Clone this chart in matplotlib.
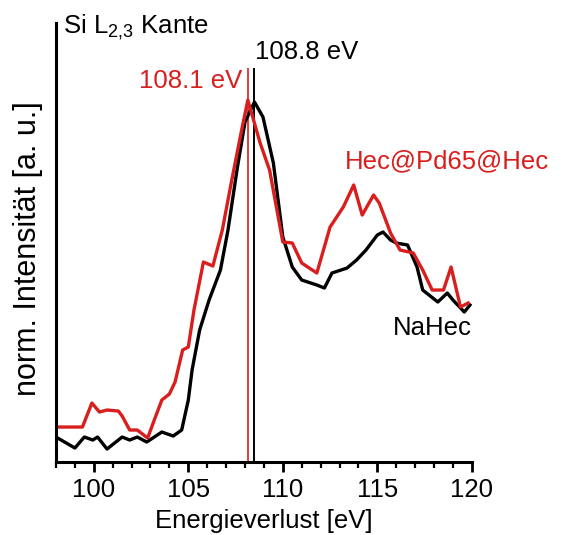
import numpy as np
import matplotlib
matplotlib.use("Agg")
import matplotlib.pyplot as plt
from matplotlib.ticker import MultipleLocator

plt.rcParams['font.family'] = ['Liberation Sans', 'DejaVu Sans']

# NaHec spectrum (energy loss in eV, normalised intensity, arbitrary units)
e_nahec = [98.0, 99.0, 99.5, 99.95, 100.2, 100.7, 101.5, 101.9, 102.3, 102.8,
           103.6, 104.2, 104.65, 105.0, 105.2, 105.6, 106.1, 106.7, 107.1, 107.6,
           108.0, 108.5, 108.95, 109.5, 110.0, 110.5, 111.0, 111.8, 112.2, 112.6,
           113.4, 113.9, 114.4, 115.0, 115.3, 115.7, 116.0, 116.6, 117.1, 117.4,
           118.2, 118.7, 119.0, 119.6, 119.9]
i_nahec = [25, 14, 25, 22, 25, 13, 25, 22, 25, 20,
           30, 26, 32, 62, 92, 132, 162, 192, 232, 295,
           340, 360, 345, 299, 225, 195, 182, 177, 174, 189,
           194, 202, 212, 227, 230, 222, 219, 217, 195, 172,
           160, 169, 162, 150, 157]

# Hec@Pd65@Hec spectrum
e_hec = [98.0, 99.4, 99.9, 100.3, 100.7, 101.3, 101.5, 101.9, 102.3, 102.85,
         103.2, 103.6, 104.0, 104.3, 104.7, 105.0, 105.3, 105.8, 106.3, 106.8,
         107.3, 107.8, 108.15, 108.8, 109.3, 110.0, 110.5, 111.0, 111.8, 112.5,
         113.2, 113.75, 114.2, 114.8, 115.1, 115.7, 116.2, 116.9, 117.4, 117.9,
         118.5, 118.9, 119.4, 119.8]
i_hec = [35, 35, 59, 50, 52, 51, 46, 32, 32, 24,
         42, 62, 68, 80, 112, 115, 152, 200, 196, 232,
         282, 330, 362, 319, 292, 220, 219, 199, 189, 235,
         255, 277, 247, 267, 259, 229, 212, 209, 192, 172,
         172, 195, 155, 159]

# peak markers
peak_hec = 108.15
peak_nahec = 108.45
peak_line_top = 394

red = '#d91e1e'
fs = 18.5

fig = plt.figure(figsize=(5.62, 5.35), dpi=100)
ax = fig.add_axes([0.0996, 0.1364, 0.740, 0.8206])

ax.vlines(peak_hec, 0, peak_line_top, color=red, lw=1.2)
ax.vlines(peak_nahec, 0, peak_line_top, color='black', lw=1.4)
ax.plot(e_nahec, i_nahec, color='black', lw=2.4)
ax.plot(e_hec, i_hec, color=red, lw=2.4)

ax.set_xlim(98, 120)
ax.set_ylim(0, 439)
ax.xaxis.set_major_locator(MultipleLocator(5))
ax.xaxis.set_minor_locator(MultipleLocator(1))
ax.set_yticks([])
ax.tick_params(axis='x', which='major', direction='out', length=7, width=2, labelsize=fs, pad=4.5)
ax.tick_params(axis='x', which='minor', direction='out', length=4, width=1.6)

for s in ['top', 'right']:
    ax.spines[s].set_visible(False)
for s in ['left', 'bottom']:
    ax.spines[s].set_linewidth(2.2)

ax.set_xlabel('Energieverlust [eV]', fontsize=18.5, labelpad=5)
ax.set_ylabel('norm. Intensität [a. u.]', fontsize=22)
ax.yaxis.set_label_coords(-0.032, 0.487)

ax.text(98.37, 429, r'Si L$_{\mathregular{2{,}3}}$ Kante', fontsize=fs, va='baseline', ha='left')
ax.text(108.52, 403, '108.8 eV', fontsize=fs, va='baseline', ha='left')
ax.text(107.83, 374, '108.1 eV', fontsize=fs, va='baseline', ha='right', color=red)
ax.text(113.28, 294, 'Hec@Pd65@Hec', fontsize=fs, va='baseline', ha='left', color=red)
ax.text(120.0, 127, 'NaHec', fontsize=fs, va='baseline', ha='right')

fig.savefig('out.png', dpi=100)
